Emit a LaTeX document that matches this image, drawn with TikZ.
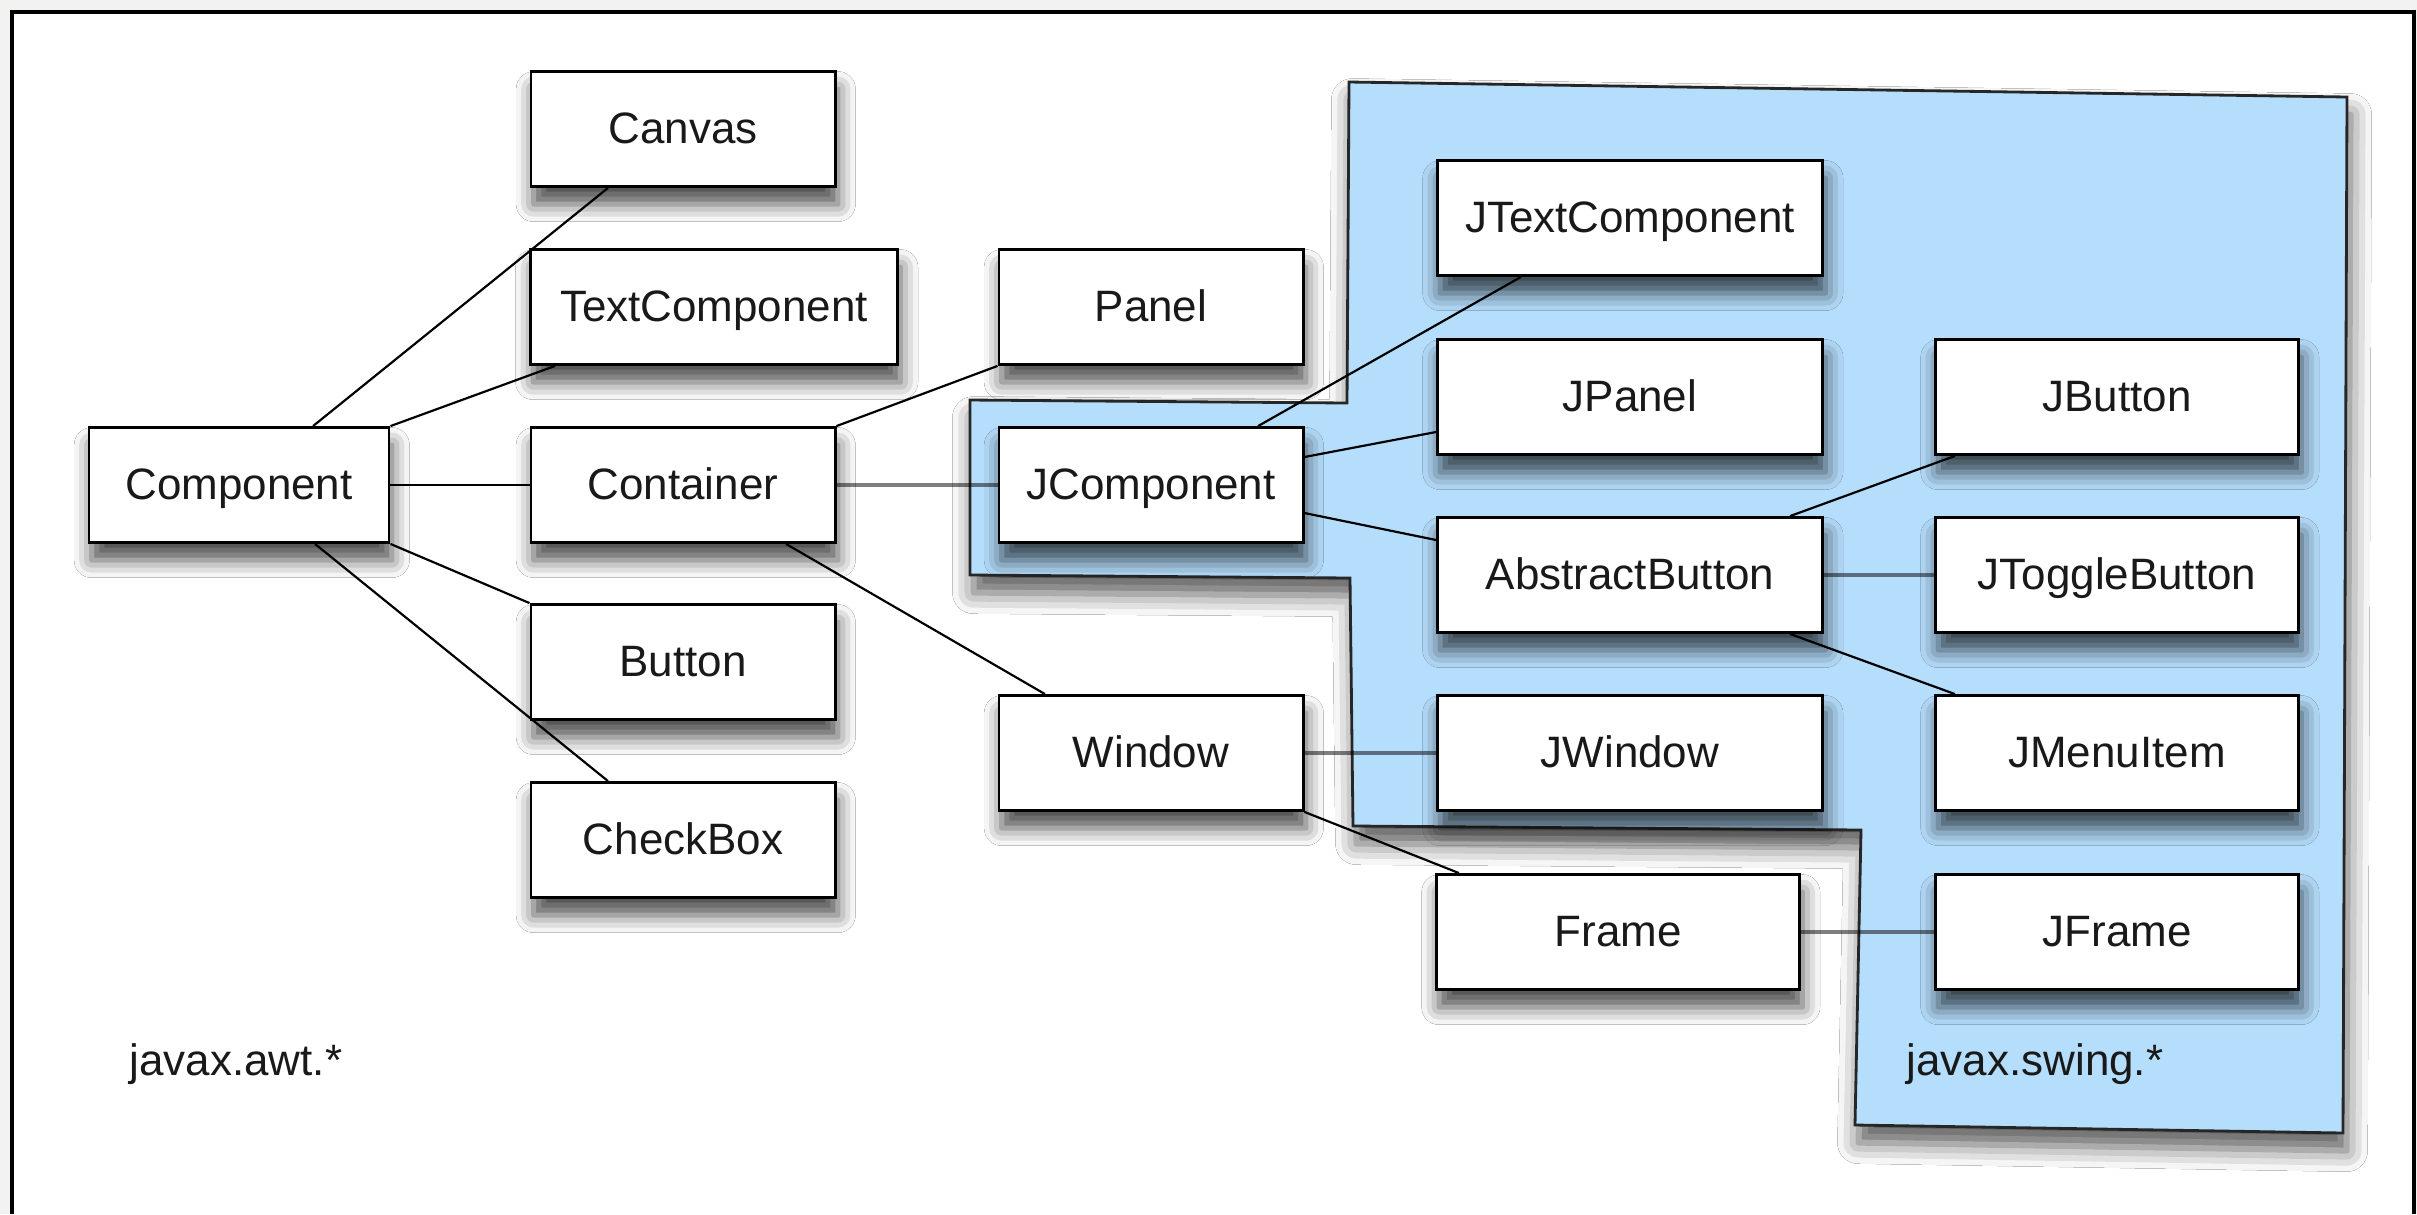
\documentclass[tikz,border=0pt]{standalone}
\usepackage{fontspec}
\setmainfont{Liberation Sans}
\definecolor{swingblue}{RGB}{181,221,252}
\definecolor{framegray}{RGB}{242,242,240}
\usetikzlibrary{shadows.blur}
\pgfdeclarelayer{background}
\pgfsetlayers{background,main}

\begin{document}
\begin{tikzpicture}[x=0.01cm, y=-0.01cm,
  cls/.style={draw=black, line width=0.8pt, fill=white, minimum height=1.15cm,
    inner sep=0pt, text height=10pt, text depth=1.8pt, text=black!90,
    font=\fontsize{12.5}{15}\selectfont,
    blur shadow={shadow xshift=0.8pt, shadow yshift=-5pt, shadow blur radius=5pt, shadow opacity=70}},
  link/.style={line width=0.62pt},
  cross/.style={line width=1.15pt, draw opacity=0.5},
  pkg/.style={anchor=west, inner sep=0pt, text=black!90, font=\fontsize{12.5}{15}\selectfont}]
  \useasboundingbox (0,0) rectangle (2417,1214);

  % classes: name/x/y/width/label
  \foreach \nm/\x/\y/\w/\lab in {
      comp/239/485/3.00cm/Component, canvas/683/129/3.04cm/Canvas,
      textcomp/714/307/3.67cm/TextComponent, cont/683/485/3.04cm/Container,
      button/683/662/3.04cm/Button, checkbox/683/840/3.04cm/CheckBox,
      panel/1151/307/3.04cm/Panel, jcomp/1151/485/3.04cm/JComponent,
      window/1151/753/3.04cm/Window, jtext/1630/218/3.85cm/JTextComponent,
      jpanel/1630/397/3.85cm/JPanel, abstract/1630/575/3.85cm/AbstractButton,
      jwindow/1630/753/3.85cm/JWindow, frame/1618/932/3.63cm/Frame,
      jbutton/2117/397/3.63cm/JButton, jtoggle/2117/575/3.63cm/JToggleButton,
      jmenu/2117/753/3.63cm/JMenuItem, jframe/2117/932/3.63cm/JFrame}{
    \node[cls, minimum width=\w] (\nm) at (\x,\y) {\lab};
  }

  \begin{pgfonlayer}{background}
    % screen frame
    \fill[framegray] (0,0) rectangle (2417,1214);
    \fill[white] (12,12) rectangle (2414,1214);
    \draw[line width=1.4pt] (12,1214) -- (12,12) -- (2414,12) -- (2414,1214);
    % swing package region
    \filldraw[fill=swingblue, draw=black!85, line width=0.8pt,
      blur shadow={shadow xshift=1pt, shadow yshift=-5pt, shadow blur radius=6pt, shadow opacity=65}]
      (1349,82) -- (2347,97) -- (2343,1133) -- (1855,1125) -- (1861,830)
      -- (1353,826) -- (1350,578) -- (970,575) -- (970,400) -- (1347,403) -- cycle;
  \end{pgfonlayer}

  % inheritance links
  \draw[link] ([xshift=7.4mm]comp.north) -- ([xshift=-7.5mm]canvas.south);
  \draw[link] (comp.north east) -- ([xshift=2.6mm]textcomp.south west);
  \draw[link] (comp.east) -- (cont.west);
  \draw[link] (comp.south east) -- (button.north west);
  \draw[link] ([xshift=7.6mm]comp.south) -- ([xshift=-7.5mm]checkbox.north);
  \draw[link] (cont.north east) -- (panel.south west);
  \draw[cross] (cont.east) -- (jcomp.west);
  \draw[link] ([xshift=10.3mm]cont.south) -- ([xshift=-10.6mm]window.north);
  \draw[link] ([xshift=10.7mm]jcomp.north) -- ([xshift=-10.9mm]jtext.south);
  \draw[link] ([yshift=2.8mm]jcomp.east) -- ([yshift=-3.5mm]jpanel.west);
  \draw[link] ([yshift=-2.8mm]jcomp.east) -- ([yshift=3.5mm]abstract.west);
  \draw[link] ([xshift=16mm]abstract.north) -- ([xshift=-16.2mm]jbutton.south);
  \draw[cross] (abstract.east) -- (jtoggle.west);
  \draw[link] ([xshift=16mm]abstract.south) -- ([xshift=-16.2mm]jmenu.north);
  \draw[cross] (window.east) -- (jwindow.west);
  \draw[link] (window.south east) -- ([xshift=2.4mm]frame.north west);
  \draw[cross] (frame.east) -- (jframe.west);

  \node[pkg] (awt) at (129,1064) {javax.awt.*};
  \node[pkg] (swing) at (1906,1064) {javax.swing.*};
\end{tikzpicture}
\end{document}
